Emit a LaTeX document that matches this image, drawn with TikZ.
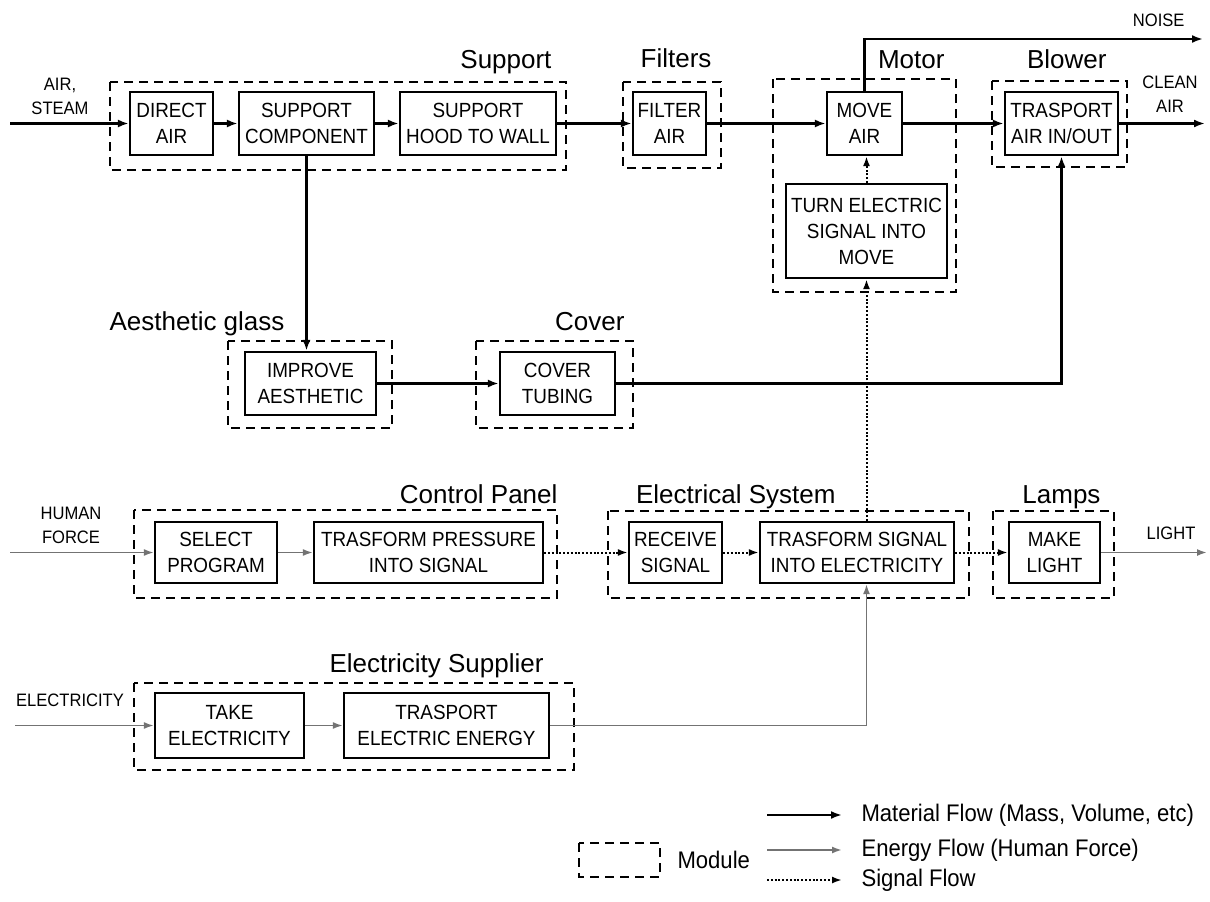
\documentclass[tikz,border=0pt]{standalone}
\usepackage{fontspec}
\setmainfont{Liberation Sans}
\newfontfamily\narrowfont{Liberation Sans}[FakeStretch=0.92]
\usetikzlibrary{arrows.meta}

\tikzset{
  fnbox/.style={draw, line width=2.2pt, align=center, inner sep=0pt,
    font=\narrowfont\fontsize{20.5}{26}\selectfont},
  modbox/.style={draw, line width=2.2pt, dash pattern=on 9pt off 6pt},
  modlabel/.style={anchor=base east, font=\fontsize{26}{28}\selectfont},
  flowtext/.style={align=center, font=\narrowfont\fontsize{18}{24}\selectfont},
  legtext/.style={anchor=west, font=\narrowfont\fontsize{24}{26}\selectfont},
  material/.style={line width=2.2pt, -{Latex[length=11pt,width=8pt]}},
  energy/.style={line width=1.8pt, black!55, -{Latex[length=10pt,width=7pt]}},
  signal/.style={line width=2pt, dash pattern=on 2pt off 1.8pt, -{Latex[length=10pt,width=7pt]}},
}

\begin{document}
\begin{tikzpicture}[x=1pt,y=-1pt]
  \useasboundingbox (0,0) rectangle (1210,902);
  % modules
  \draw[modbox] (110,82) rectangle (566,170);
  \draw[modbox] (623,82) rectangle (721,168);
  \draw[modbox] (773,79) rectangle (956,292);
  \draw[modbox] (992,81) rectangle (1127,167);
  \draw[modbox] (228,341) rectangle (392,428);
  \draw[modbox] (476,341) rectangle (633,428);
  \draw[modbox] (134,510) rectangle (557,598);
  \draw[modbox] (608,511) rectangle (969,598);
  \draw[modbox] (993,511) rectangle (1114,598);
  \draw[modbox] (134,683) rectangle (574,770);
  \node[modlabel] (lsupport) at (555,68) {Support};
  \node[modlabel] (lfilters) at (715,67) {Filters};
  \node[modlabel] (lmotor) at (948,68) {Motor};
  \node[modlabel] (lblower) at (1110,68) {Blower};
  \node[modlabel] (lglass) at (288,330) {Aesthetic glass};
  \node[modlabel] (lcover) at (628,330) {Cover};
  \node[modlabel] (lpanel) at (561,503) {Control Panel};
  \node[modlabel] (lelec) at (839,503) {Electrical System};
  \node[modlabel] (llamps) at (1104,503) {Lamps};
  \node[modlabel] (lsupply) at (547,672) {Electricity Supplier};
  % functions
  \node[fnbox, minimum width=83, minimum height=63] (direct) at (171.5,123.5) {DIRECT\\AIR};
  \node[fnbox, minimum width=135, minimum height=63] (supcomp) at (306.5,123.5) {SUPPORT\\COMPONENT};
  \node[fnbox, minimum width=156, minimum height=63] (suphood) at (478,123.5) {SUPPORT\\HOOD TO WALL};
  \node[fnbox, minimum width=73, minimum height=63] (filter) at (669.5,123.5) {FILTER\\AIR};
  \node[fnbox, minimum width=75, minimum height=63] (move) at (864.5,123.5) {MOVE\\AIR};
  \node[fnbox, minimum width=113, minimum height=63] (trasport) at (1061.5,123.5) {TRASPORT\\AIR IN/OUT};
  \node[fnbox, minimum width=161, minimum height=94] (turn) at (866.5,231) {TURN ELECTRIC\\SIGNAL INTO\\MOVE};
  \node[fnbox, minimum width=131, minimum height=63] (improve) at (310.5,383.5) {IMPROVE\\AESTHETIC};
  \node[fnbox, minimum width=115, minimum height=63] (cover) at (557.5,383.5) {COVER\\TUBING};
  \node[fnbox, minimum width=122, minimum height=61] (select) at (216,552.5) {SELECT\\PROGRAM};
  \node[fnbox, minimum width=229, minimum height=61] (pressure) at (428.5,552.5) {TRASFORM PRESSURE\\INTO SIGNAL};
  \node[fnbox, minimum width=93, minimum height=61] (receive) at (675.5,552.5) {RECEIVE\\SIGNAL};
  \node[fnbox, minimum width=194, minimum height=61] (tsignal) at (857,552.5) {TRASFORM SIGNAL\\INTO ELECTRICITY};
  \node[fnbox, minimum width=91, minimum height=61] (light) at (1054.5,552.5) {MAKE\\LIGHT};
  \node[fnbox, minimum width=149, minimum height=65] (take) at (229.5,725.5) {TAKE\\ELECTRICITY};
  \node[fnbox, minimum width=205, minimum height=65] (tenergy) at (446.5,725.5) {TRASPORT\\ELECTRIC ENERGY};
  % inputs and outputs
  \node[flowtext] (tair) at (60,96) {AIR,\\STEAM};
  \node[flowtext] (tclean) at (1170,94.5) {CLEAN\\AIR};
  \node[flowtext, anchor=base east] (tnoise) at (1188,27) {NOISE};
  \node[flowtext] (thuman) at (71,525) {HUMAN\\FORCE};
  \node[flowtext] (tlight) at (1171,533) {LIGHT};
  \node[flowtext] (telec) at (70,700) {ELECTRICITY};
  \coordinate (airin) at (10,123.5);
  \coordinate (cleanout) at (1205,123.5);
  \coordinate (noiseout) at (1203,39);
  \coordinate (humanin) at (10,552.5);
  \coordinate (lightout) at (1207,552.5);
  \coordinate (elecin) at (15,725.5);
  % flows
  \draw[material] (airin) -- (direct);
  \draw[material] (direct) -- (supcomp);
  \draw[material] (supcomp) -- (suphood);
  \draw[material] (suphood) -- (filter);
  \draw[material] (filter) -- (move);
  \draw[material] (move) -- (trasport);
  \draw[material] (trasport) -- (cleanout);
  \draw[material] (move.north) |- (noiseout);
  \draw[material] (supcomp.south) -- (supcomp.south |- improve.north);
  \draw[material] (improve) -- (cover);
  \draw[material] (cover.east) -| (trasport.south);
  \draw[signal] (turn.north) -- (turn.north |- move.south);
  \draw[signal] (turn.south |- tsignal.north) -- (turn.south);
  \draw[energy] (humanin) -- (select);
  \draw[energy] (select) -- (pressure);
  \draw[signal] (pressure) -- (receive);
  \draw[signal] (receive) -- (tsignal);
  \draw[signal] (tsignal) -- (light);
  \draw[energy] (light) -- (lightout);
  \draw[energy] (elecin) -- (take);
  \draw[energy] (take) -- (tenergy);
  \draw[energy] (tenergy.east) -| (turn.south |- tsignal.south);
  % legend
  \draw[modbox] (579,843) rectangle (660,877);
  \node[legtext] (tmodule) at (674,860) {Module};
  \coordinate (mat0) at (767,815);
  \coordinate (mat1) at (842,815);
  \coordinate (ene0) at (767,850);
  \coordinate (ene1) at (842,850);
  \coordinate (sig0) at (767,880);
  \coordinate (sig1) at (842,880);
  \draw[material] (mat0) -- (mat1);
  \draw[energy] (ene0) -- (ene1);
  \draw[signal] (sig0) -- (sig1);
  \node[legtext] (tmat) at (858,815) {Material Flow (Mass, Volume, etc)};
  \node[legtext] (tene) at (858,850) {Energy Flow (Human Force)};
  \node[legtext] (tsig) at (858,880) {Signal Flow};
\end{tikzpicture}
\end{document}
